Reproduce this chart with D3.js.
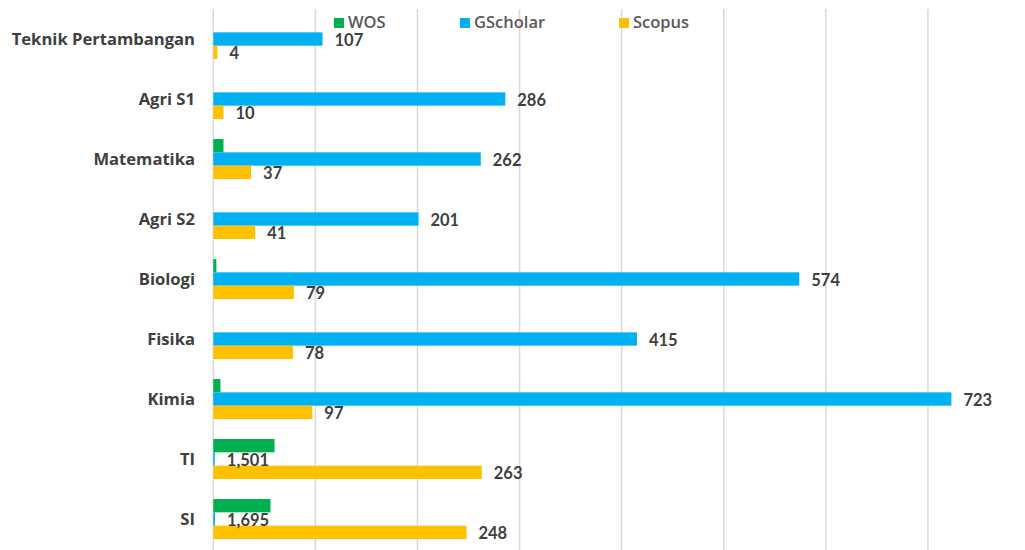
<!DOCTYPE html>
<html>
<head>
<meta charset="utf-8">
<script src="https://cdn.jsdelivr.net/npm/d3@7"></script>
<style>
  html, body { margin: 0; padding: 0; background: #fff; }
  #app { width: 1025px; height: 550px; overflow: hidden; }
  text { font-family: Lato, "Open Sans", sans-serif; }
  text.cat, text.leg { font-family: "Open Sans", Lato, sans-serif; }
</style>
</head>
<body>
<div id="app"></div>
<script>
// Chart data
const categories = ["Teknik Pertambangan", "Agri S1", "Matematika", "Agri S2", "Biologi", "Fisika", "Kimia", "TI", "SI"];
const seriesNames = ["WOS", "GScholar", "Scopus"];
const wosValues = [0, 0, 10, 0, 3, 0, 7, 60, 56];
// TI and SI GScholar were entered as decimals (1,501 / 1,695 with a decimal comma)
const gscholarValues = [107, 286, 262, 201, 574, 415, 723, 1.501, 1.695];
const scopusValues = [4, 10, 37, 41, 79, 78, 97, 263, 248];
const xTicks = [0, 100, 200, 300, 400, 500, 600, 700, 800];

const colors = {WOS: "#00b050", GScholar: "#00b0f0", Scopus: "#ffc000"};

function drawPlot(targetDiv) {
  const width = 1025, height = 550;
  const margin = {top: 9, bottom: 1, left: 213.3, right: -5};

  const svg = d3.select(targetDiv).append("svg")
    .attr("width", width)
    .attr("height", height)
    .attr("viewBox", [0, 0, width, height]);

  const rows = categories.map((c, i) => ({
    category: c,
    WOS: wosValues[i],
    GScholar: gscholarValues[i],
    Scopus: scopusValues[i]
  }));

  const x = d3.scaleLinear()
    .domain([0, 800])
    .range([margin.left, width - margin.right]);

  const y = d3.scaleBand()
    .domain(categories)
    .range([margin.top, height - margin.bottom])
    .paddingInner(1 / 3)
    .paddingOuter(1 / 6);

  const ySub = d3.scaleBand()
    .domain(seriesNames)
    .range([0, y.bandwidth()]);

  // vertical gridlines
  svg.append("g")
    .selectAll("line")
    .data(xTicks)
    .join("line")
    .attr("x1", d => x(d)).attr("x2", d => x(d))
    .attr("y1", margin.top).attr("y2", height)
    .attr("stroke", "#d9d9d9")
    .attr("stroke-width", 1.5);

  // bars
  const groups = svg.append("g")
    .selectAll("g")
    .data(rows)
    .join("g")
    .attr("transform", d => `translate(0,${y(d.category)})`);

  groups.selectAll("rect")
    .data(d => seriesNames.map(s => ({series: s, value: d[s]})))
    .join("rect")
    .attr("x", x(0))
    .attr("y", d => ySub(d.series))
    .attr("width", d => x(d.value) - x(0))
    .attr("height", ySub.bandwidth())
    .attr("fill", d => colors[d.series]);

  // value labels (WOS has none)
  const fmt = v => v < 10 && v % 1 !== 0 ? d3.format(".3f")(v).replace(".", ",") : d3.format(",")(v);
  groups.selectAll("text.val")
    .data(d => ["GScholar", "Scopus"].map(s => ({series: s, value: d[s]})))
    .join("text")
    .attr("class", "val")
    .attr("x", d => x(d.value) + 12)
    .attr("y", d => ySub(d.series) + ySub.bandwidth() / 2 + 1)
    .attr("dy", "0.36em")
    .attr("font-size", 16.5)
    .attr("font-weight", "bold")
    .attr("fill", "#404040")
    .text(d => fmt(d.value));

  // category axis labels
  svg.append("g")
    .selectAll("text")
    .data(categories)
    .join("text")
    .attr("class", "cat")
    .attr("x", 195)
    .attr("y", d => y(d) + ySub("GScholar") + ySub.bandwidth() / 2)
    .attr("dy", "0.36em")
    .attr("text-anchor", "end")
    .attr("font-size", 16.6)
    .attr("font-weight", "bold")
    .attr("fill", "#404040")
    .text(d => d);

  // legend
  const legendX = [334, 460, 619];
  const legend = svg.append("g")
    .selectAll("g")
    .data(seriesNames)
    .join("g")
    .attr("transform", (d, i) => `translate(${legendX[i]},22)`);
  legend.append("rect")
    .attr("x", 0).attr("y", -4)
    .attr("width", 10).attr("height", 10)
    .attr("fill", d => colors[d]);
  legend.append("text")
    .attr("class", "leg")
    .attr("x", 14)
    .attr("dy", "0.36em")
    .attr("font-size", 16.5)
    .attr("font-weight", 600)
    .attr("fill", "#595959")
    .text(d => d);
}

function main() {
  drawPlot("#app");
}

document.addEventListener("DOMContentLoaded", main);
</script>
</body>
</html>
